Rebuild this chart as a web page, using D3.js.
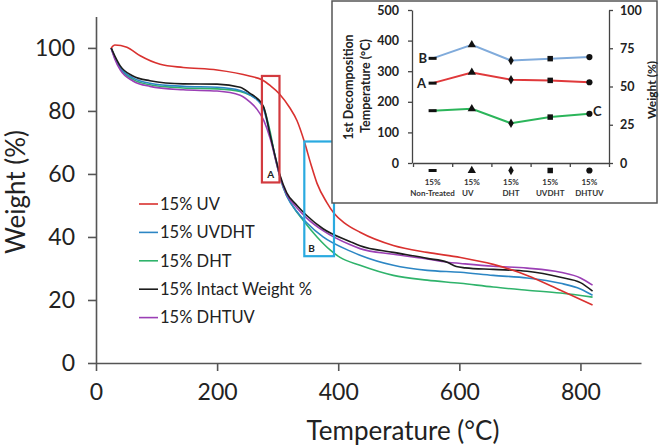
<!DOCTYPE html>
<html><head><meta charset="utf-8">
<script src="https://cdn.jsdelivr.net/npm/d3@7"></script>
<style>body{margin:0;background:#fff}svg{display:block}</style>
</head><body>
<svg id="c" width="666" height="448"></svg>
<script>
// ---- main TGA curves: [temperature °C, weight %]
const uvCurve = [[25,100],[31,100.9],[51,100.2],[73,97.5],[106,94.8],[144,93.8],[200,93],[255,91],[274,89.9],[288,88],[303,85.4],[320,81],[332,76.9],[344,70.3],[355,63],[365,57],[381,51],[393,47.5],[410,44.5],[436,41.5],[491,37.3],[547,35.1],[602,33.5],[656,31.3],[712,27.8],[767,23.1],[820,18.4]];
const uvdhtCurve = [[25,100],[31,97],[40,93.8],[61,90.5],[89,88.8],[144,87.8],[200,87.5],[238,86.5],[255,85],[266,83.5],[277,80.5],[288,72],[296,65.5],[304,59],[315,53],[332,48],[348,44.5],[375,40],[420,35.5],[436,34.2],[491,31],[547,29.4],[602,28.8],[656,27.8],[712,27],[767,25.3],[800,23.5],[820,21.5]];
const dhtCurve = [[25,100],[31,97],[40,93.5],[61,90],[89,88.3],[144,87.3],[200,87],[238,86.2],[255,85],[266,83.8],[277,81],[288,73],[296,65],[304,59],[309,55.8],[326,49.5],[342,45.3],[365,40],[387,35.8],[403,33.5],[436,31],[491,27.8],[547,26.3],[602,25.3],[656,24.1],[712,23.1],[767,22.2],[820,20.9]];
const intactCurve = [[25,100],[31,97.5],[40,94.3],[61,91.1],[89,89.6],[144,88.6],[200,88.5],[238,87.5],[255,85.5],[266,84],[277,81.2],[288,72],[296,65.5],[304,59.5],[315,54],[332,50],[348,46.8],[375,42.6],[420,38.5],[436,37.2],[491,35.1],[547,33.2],[580,32],[595,30.6],[610,30.2],[656,29.7],[712,29.1],[767,27.2],[800,25.5],[820,22.8]];
const dhtuvCurve = [[25,100],[31,96.5],[40,93],[61,89.5],[89,87.8],[144,86.7],[200,86.3],[238,85],[255,82.7],[266,80.5],[277,77],[288,71],[296,65],[304,59],[315,53.5],[332,49.2],[348,46],[375,42],[420,37.5],[436,36.3],[491,34.5],[547,33],[580,32],[602,31.6],[656,30.7],[712,30.1],[767,28.8],[800,27],[820,24.7]];
const seriesNames = ["15% UV","15% UVDHT","15% DHT","15% Intact Weight %","15% DHTUV"];
const seriesColors = ["#d9312f","#2c86c4","#2fb36b","#1c1c1c","#9b3fb5"];
const seriesData = [uvCurve, uvdhtCurve, dhtCurve, intactCurve, dhtuvCurve];
const xTicks = [0,200,400,600,800];
const yTicks = [0,20,40,60,80,100];
// highlighted regions [x0,x1,y0,y1] in data units
const boxA = [274,303,57.3,91.1];
const boxB = [344,393,33.9,70.3];

// ---- inset data
const insetCats = ["Non-Treated","UV","DHT","UVDHT","DHTUV"];
const insetA = [261,296,272,270,264];     // temperature °C
const insetB = [342,386,335,341,346];     // temperature °C
const insetC = [34.2,35.4,26,30,32.2];    // weight %
const insetLeftTicks = [0,100,200,300,400,500];
const insetRightTicks = [0,25,50,75,100];

const svg = d3.select("#c");
svg.append("rect").attr("width",666).attr("height",448).attr("fill","#fff");
const F = "Lato, 'Open Sans', sans-serif";

const x = d3.scaleLinear().domain([0,900]).range([96,641]);
const y = d3.scaleLinear().domain([0,110]).range([363,16.4]);

const axisCol = "#555";
const gx = svg.append("g").attr("transform","translate(0,363)")
  .call(d3.axisBottom(x).tickValues(xTicks).tickSize(8).tickSizeOuter(0).tickPadding(13));
const gy = svg.append("g").attr("transform","translate(96,0)")
  .call(d3.axisLeft(y).tickValues(yTicks).tickSize(8).tickSizeOuter(0).tickPadding(13));
[gx,gy].forEach(g=>{
  g.selectAll("path,line").attr("stroke",axisCol).attr("stroke-width",1.6);
  g.selectAll("text").attr("font-family",F).attr("font-size",23).attr("fill","#222");
});

svg.append("text").attr("x",403).attr("y",440).attr("text-anchor","middle")
  .attr("font-family",F).attr("font-size",26).attr("fill","#222").text("Temperature (°C)");
svg.append("text").attr("transform","translate(25,192) rotate(-90)").attr("text-anchor","middle")
  .attr("font-family",F).attr("font-size",26).attr("fill","#222").text("Weight (%)");

const line = d3.line().x(d=>x(d[0])).y(d=>y(d[1])).curve(d3.curveMonotoneX);
// draw order: back to front
[2,1,4,3,0].forEach(i=>{
  svg.append("path").attr("d",line(seriesData[i])).attr("fill","none")
    .attr("stroke",seriesColors[i]).attr("stroke-width",1.6);
});

// boxes
function box(b,col,lab,lx){
  svg.append("rect").attr("x",x(b[0])).attr("y",y(b[3]))
    .attr("width",x(b[1])-x(b[0])).attr("height",y(b[2])-y(b[3]))
    .attr("fill","none").attr("stroke",col).attr("stroke-width",2.2);
  svg.append("text").attr("x",lx==="mid"?(x(b[0])+x(b[1]))/2:x(b[0])+4)
    .attr("y",y(b[2])-4).attr("text-anchor",lx==="mid"?"middle":"start")
    .attr("font-family",F).attr("font-weight","bold").attr("font-size",10).attr("fill","#222").text(lab);
}
box(boxA,"#d23a3f","A","mid");
box(boxB,"#2aaae0","B","left");

// legend
const lg = svg.append("g");
seriesNames.forEach((n,i)=>{
  const yy = 204 + i*28.4;
  lg.append("line").attr("x1",139).attr("x2",158).attr("y1",yy).attr("y2",yy)
    .attr("stroke",seriesColors[i]).attr("stroke-width",1.6);
  lg.append("text").attr("x",160).attr("y",yy).attr("dy","0.35em")
    .attr("font-family",F).attr("font-size",16.5).attr("fill","#222").text(n);
});

// ---- inset
const ins = svg.append("g");
ins.append("rect").attr("x",332).attr("y",1).attr("width",325).attr("height",202)
  .attr("fill","#fff").attr("stroke","#555").attr("stroke-width",1.5);
const xi = d3.scaleBand().domain(insetCats).range([413,609]);
const xiB = d3.scaleLinear().domain([0,insetCats.length]).range([413,609]);
const yL = d3.scaleLinear().domain([0,500]).range([163,10]);
const yR = d3.scaleLinear().domain([0,100]).range([163,10]);
const cx = c=>xi(c)+xi.bandwidth()/2;

const gL = ins.append("g").attr("transform","translate(412,0)")
  .call(d3.axisLeft(yL).tickValues(insetLeftTicks).tickSize(4).tickSizeOuter(0).tickPadding(9));
const gR = ins.append("g").attr("transform","translate(609,0)")
  .call(d3.axisRight(yR).tickValues(insetRightTicks).tickSize(4).tickSizeOuter(0).tickPadding(7));
const gB = ins.append("g").attr("transform","translate(0,163)")
  .call(d3.axisBottom(xiB).tickValues(d3.range(insetCats.length+1)).tickSize(4).tickSizeOuter(0).tickFormat(""));
[gL,gR,gB].forEach(g=>{
  g.selectAll("path,line").attr("stroke","#444").attr("stroke-width",1.3);
  g.selectAll("text").attr("font-family",F).attr("font-weight","bold").attr("font-size",12.5).attr("fill","#222");
});

const symTypes = [null,d3.symbolTriangle,d3.symbolDiamond,d3.symbolSquare,d3.symbolCircle];
function marker(g,i,px,py){
  if(i===0){
    g.append("rect").attr("x",px-4).attr("y",py-1.5).attr("width",8).attr("height",3).attr("fill","#111");
  } else {
    g.append("path").attr("d",d3.symbol().type(symTypes[i]).size(i===2?26:30)())
      .attr("transform",`translate(${px},${py})`).attr("fill","#111");
  }
}
// category markers & labels
insetCats.forEach((c,i)=>{
  marker(ins,i,cx(c),170.5);
  ins.append("text").attr("x",cx(c)).attr("y",185).attr("text-anchor","middle")
    .attr("font-family",F).attr("font-weight","bold").attr("font-size",8).attr("fill","#333").text("15%");
  ins.append("text").attr("x",cx(c)+(i===1?-4:0)).attr("y",196).attr("text-anchor","middle")
    .attr("font-family",F).attr("font-weight","bold").attr("font-size",8).attr("fill","#333").text(c);
});

const lineL = d3.line().x((d,i)=>cx(insetCats[i])).y(d=>yL(d));
const lineR = d3.line().x((d,i)=>cx(insetCats[i])).y(d=>yR(d));
ins.append("path").attr("d",lineL(insetB)).attr("fill","none").attr("stroke","#80abdb").attr("stroke-width",2);
ins.append("path").attr("d",lineL(insetA)).attr("fill","none").attr("stroke","#e0393b").attr("stroke-width",2);
ins.append("path").attr("d",lineR(insetC)).attr("fill","none").attr("stroke","#2bb55a").attr("stroke-width",2);
insetCats.forEach((c,i)=>{
  marker(ins,i,cx(c),yL(insetB[i]));
  marker(ins,i,cx(c),yL(insetA[i]));
  marker(ins,i,cx(c),yR(insetC[i]));
});
const lab = (t,px,py,anc)=>ins.append("text").attr("x",px).attr("y",py).attr("dy","0.35em").attr("text-anchor",anc)
  .attr("font-family",F).attr("font-weight","bold").attr("font-size",13).attr("fill","#222").text(t);
lab("B",427,yL(insetB[0]),"end");
lab("A",426,yL(insetA[0]),"end");
lab("C",593,yR(insetC[4])-2,"start");

ins.append("text").attr("transform","translate(353,87) rotate(-90)").attr("text-anchor","middle")
  .attr("font-family",F).attr("font-weight","bold").attr("font-size",12.5).attr("fill","#222").text("1st Decomposition");
ins.append("text").attr("transform","translate(370,86) rotate(-90)").attr("text-anchor","middle")
  .attr("font-family",F).attr("font-weight","bold").attr("font-size",12.5).attr("fill","#222").text("Temperature (°C)");
ins.append("text").attr("transform","translate(656,90) rotate(-90)").attr("text-anchor","middle")
  .attr("font-family",F).attr("font-weight","bold").attr("font-size",12).attr("fill","#222").text("Weight (%)");
</script>
</body></html>
